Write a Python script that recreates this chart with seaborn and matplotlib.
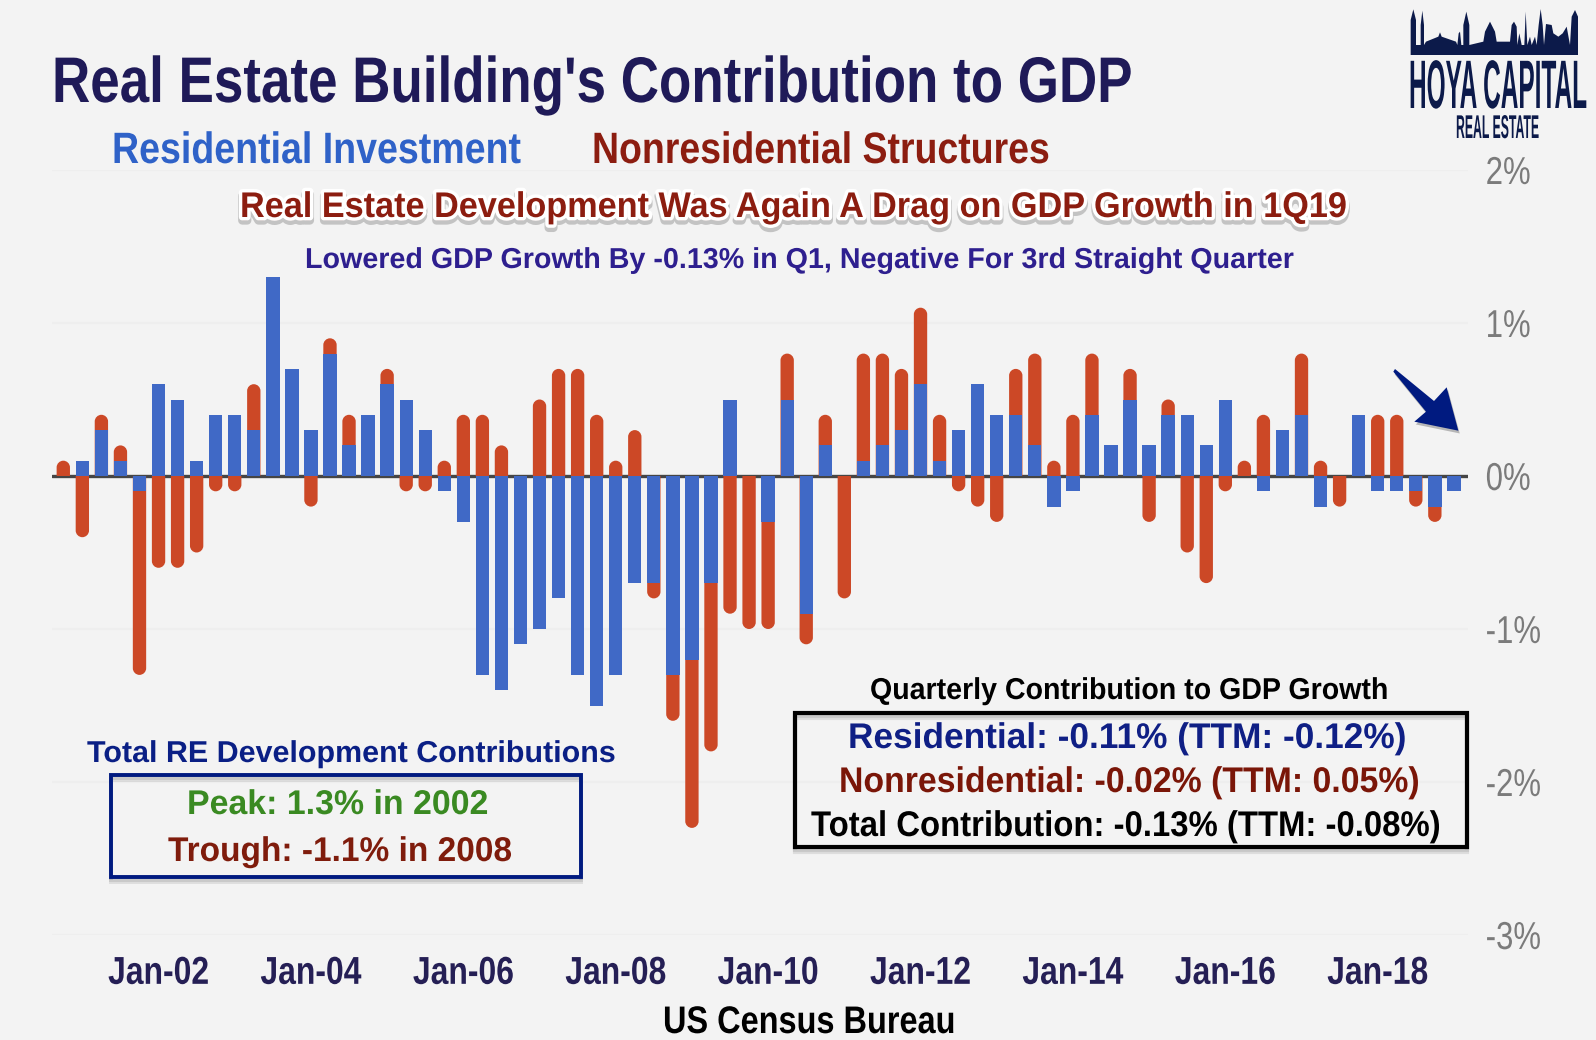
#!/usr/bin/env python3
import numpy as np
import pandas as pd
import matplotlib
matplotlib.use("Agg")
import matplotlib.pyplot as plt
import matplotlib.patheffects as pe
from matplotlib.path import Path as MplPath
from matplotlib.patches import PathPatch, Polygon, Rectangle
from matplotlib.transforms import Affine2D
import seaborn as sns

# quarterly contributions to GDP growth, percentage points (4Q00 .. 1Q19)
residential = [
    0.0, 0.1, 0.3, 0.1, -0.1, 0.6, 0.5, 0.1, 0.4, 0.4, 0.3, 1.3, 0.7, 0.3, 0.8, 0.2, 0.4, 0.6, 0.5,
    0.3, -0.1, -0.3, -1.3, -1.4, -1.1, -1.0, -0.8, -1.3, -1.5, -1.3, -0.7, -0.7, -1.3, -1.2, -0.7,
    0.5, 0.0, -0.3, 0.5, -0.9, 0.2, 0.0, 0.1, 0.2, 0.3, 0.6, 0.1, 0.3, 0.6, 0.4, 0.4, 0.2, -0.2,
    -0.1, 0.4, 0.2, 0.5, 0.2, 0.4, 0.4, 0.2, 0.5, 0.0, -0.1, 0.3, 0.4, -0.2, 0.0, 0.4, -0.1, -0.1,
    -0.1, -0.2, -0.1,
]
nonresidential = [
    0.1, -0.4, 0.1, 0.1, -1.2, -0.6, -0.6, -0.5, -0.1, -0.1, 0.3, 0.0, 0.0, -0.2, 0.1, 0.2, 0.0, 0.1, -0.1,
    -0.1, 0.1, 0.4, 0.4, 0.2, 0.0, 0.5, 0.7, 0.7, 0.4, 0.1, 0.3, -0.1, -0.3, -1.1, -1.1,
    -0.9, -1.0, -0.7, 0.3, -0.2, 0.2, -0.8, 0.7, 0.6, 0.4, 0.5, 0.3, -0.1, -0.2, -0.3, 0.3, 0.6, 0.1,
    0.4, 0.4, 0.0, 0.2, -0.3, 0.1, -0.5, -0.7, -0.1, 0.1, 0.4, 0.0, 0.4, 0.1, -0.2, 0.0, 0.4, 0.4,
    -0.1, -0.1, 0.0,
]
first_quarter = "2000-10-01"
x_tick_years = [2002, 2004, 2006, 2008, 2010, 2012, 2014, 2016, 2018]
y_ticks = [-3, -2, -1, 0, 1, 2]

W, H = 1596, 1040
BG = "#f3f3f3"
BLUE = "#4069c6"
ORANGE = "#cc4826"
NAVY = "#001a80"
BRICK = "#8c1d10"
FAMILY = ["Liberation Sans", "DejaVu Sans"]


class Squeeze(pe.AbstractPathEffect):
    """Scale a text about a pixel anchor, then run other effects."""

    def __init__(self, sx, anchor, inner=None, sy=1.0, base=0.0):
        super().__init__()
        self.sx = sx
        self.sy = sy
        self.anchor = anchor
        self.base = base
        self.inner = inner or [pe.Normal()]

    def draw_path(self, renderer, gc, tpath, affine, rgbFace=None):
        squeeze = (Affine2D().translate(-self.anchor, -self.base)
                   .scale(self.sx, self.sy).translate(self.anchor, self.base))
        for effect in self.inner:
            effect.draw_path(renderer, gc, tpath, affine + squeeze, rgbFace)


def round_end(bar, ax):
    """Swap a seaborn bar for one with a rounded far end."""
    x, w, end = bar.get_x(), bar.get_width(), bar.get_height()
    if end == 0:
        return
    bar.set_visible(False)
    s = np.sign(end)
    ry = s * 0.0435
    k = 0.55
    verts = [(x, 0), (x, end - ry), (x, end - ry + k * ry), (x + w / 2 * (1 - k), end), (x + w / 2, end),
             (x + w / 2 * (1 + k), end), (x + w, end - ry + k * ry), (x + w, end - ry), (x + w, 0), (x, 0)]
    codes = [MplPath.MOVETO, MplPath.LINETO] + [MplPath.CURVE4] * 6 + [MplPath.LINETO, MplPath.CLOSEPOLY]
    ax.add_patch(PathPatch(MplPath(verts, codes), facecolor=ORANGE, edgecolor="none", zorder=2))


sns.set_style("white")
plt.rcParams["font.family"] = FAMILY

quarters = pd.date_range(first_quarter, periods=len(residential), freq="QS")
df = pd.DataFrame({"pos": np.arange(len(quarters)), "residential": residential, "nonresidential": nonresidential})
# nonresidential stacks on residential when both have the same sign
same_sign = df.residential * df.nonresidential > 0
df["nonres_end"] = np.where(same_sign, df.residential + df.nonresidential, df.nonresidential)

fig = plt.figure(figsize=(W / 100, H / 100), dpi=100, facecolor=BG)
ax = fig.add_axes([52 / W, 1 - 935 / H, (1468 - 52) / W, (935 - 170) / H], facecolor=BG)

sns.barplot(data=df, x="pos", y="nonres_end", native_scale=True, color=ORANGE, saturation=1,
            width=0.7, linewidth=0, errorbar=None, ax=ax)
for bar in list(ax.patches):
    round_end(bar, ax)
sns.barplot(data=df, x="pos", y="residential", native_scale=True, color=BLUE, saturation=1,
            width=0.7, linewidth=0, errorbar=None, zorder=3, ax=ax)

ax.axhline(0, color="#454545", lw=2.4, zorder=1)
ax.set_xlim(-0.593, 73.74)
ax.set_ylim(-3, 2)
ax.set_xlabel("")
ax.set_ylabel("")
for side in ax.spines.values():
    side.set_visible(False)

ax.grid(axis="y", color="#eeeeee", lw=1.6, zorder=0)
ax.set_axisbelow(True)
ax.yaxis.tick_right()
ax.set_yticks(y_ticks, labels=[f"{v}%" for v in y_ticks])
ax.tick_params(axis="y", length=0, pad=12.5, labelsize=28, labelcolor="#7b7b7b")
for lab in ax.get_yticklabels():
    lab.set_path_effects([Squeeze(0.8, 1487)])

tick_pos = [int(np.flatnonzero(quarters == pd.Timestamp(y, 1, 1))[0]) for y in x_tick_years]
ax.set_xticks(tick_pos, labels=[pd.Timestamp(y, 1, 1).strftime("%b-%y") for y in x_tick_years])
ax.tick_params(axis="x", length=0, pad=15, labelsize=28, labelcolor="#251f55")
for p, lab in zip(tick_pos, ax.get_xticklabels()):
    lab.set_fontweight("bold")
    lab.set_path_effects([Squeeze(0.82, ax.transData.transform((p, 0))[0])])

# everything else is placed in pixel coordinates of the picture
ov = fig.add_axes([0, 0, 1, 1], facecolor="none")
ov.set_xlim(0, W)
ov.set_ylim(H, 0)
ov.axis("off")
renderer = fig.canvas.get_renderer()


def label(s, x0, x1, base, cap, color, weight="bold", inner=None):
    size = cap / 0.729 * 72 / 100
    t = ov.text(x0, base, s, fontsize=size, color=color, fontweight=weight, ha="left", va="baseline")
    sx = (x1 - x0) / t.get_window_extent(renderer).width
    t.set_path_effects([Squeeze(sx, x0, inner)])
    return t


def tall_label(s, x0, x1, base, cap, color):
    # logo text: sized to its width, then stretched upward from the baseline
    t = ov.text(x0, base, s, fontsize=20, color=color, fontweight="bold", ha="left", va="baseline")
    size = 20 * (x1 - x0) / t.get_window_extent(renderer).width
    t.set_fontsize(size)
    natural_cap = size * 100 / 72 * 0.729
    t.set_path_effects([Squeeze(1.0, x0, sy=cap / natural_cap, base=H - base)])
    return t


def frame(x0, y0, x1, y1, color, lw):
    r = Rectangle((x0, y0), x1 - x0, y1 - y0, fill=False, edgecolor=color, linewidth=lw, joinstyle="miter")
    r.set_path_effects([pe.SimpleLineShadow(offset=(0, -off), shadow_color="black", alpha=0.09) for off in (1, 2.2, 3.4)]
                       + [pe.Normal()])
    ov.add_patch(r)


label("Real Estate Building's Contribution to GDP", 52, 1133, 102, 47, "#1f1a58")
label("Residential Investment", 112, 521, 163, 32, "#2f62c8")
label("Nonresidential Structures", 592, 1050, 163, 32, BRICK)

halo = [pe.Stroke(linewidth=6, foreground="#555555", alpha=0.3, offset=(0, -2.5)),
        pe.Stroke(linewidth=5, foreground="white"), pe.Normal()]
label("Real Estate Development Was Again A Drag on GDP Growth in 1Q19", 240, 1345, 217, 26, BRICK, inner=halo)
label("Lowered GDP Growth By -0.13% in Q1, Negative For 3rd Straight Quarter", 305, 1292, 268, 21, "#2e1f8f")

label("Total RE Development Contributions", 87, 614, 762, 22, "#0a1f85")
frame(111, 775, 581, 877, NAVY, 2.8)
label("Peak: 1.3% in 2002", 187, 488, 814, 25, "#3a8a22")
label("Trough: -1.1% in 2008", 168, 512, 861, 25, "#7f1c0c")

label("Quarterly Contribution to GDP Growth", 870, 1387, 699, 22, "black")
frame(795, 713, 1467, 847, "black", 3)
label("Residential: -0.11% (TTM: -0.12%)", 848, 1405, 748, 26, "#0f1f85")
label("Nonresidential: -0.02% (TTM: 0.05%)", 839, 1418, 792, 26, "#7a1608")
label("Total Contribution: -0.13% (TTM: -0.08%)", 811, 1439, 836, 26, "black")

label("US Census Bureau", 663, 955, 1033, 28, "black")

# arrow pointing at the last quarter
arrow = [(1245, 207), (1362, 303), (1400, 262), (1435, 392), (1303, 365), (1338, 335), (1240, 215)]
ov.add_patch(Polygon([(980 + a / 3, 300 + b / 3) for a, b in arrow], closed=True, facecolor=NAVY, edgecolor="none",
                     path_effects=[pe.SimplePatchShadow(offset=(1, -2), alpha=0.25, shadow_rgbFace="black"), pe.Normal()]))

# logo, skyline outline traced roughly
sky = [(92, 165), (92, 60), (100, 28), (108, 60), (108, 135), (122, 135), (122, 75), (127, 32), (132, 75), (132, 135),
       (138, 125), (175, 110), (180, 97), (185, 110), (228, 125), (232, 135), (236, 100), (240, 95), (244, 135),
       (250, 135), (250, 75), (259, 35), (268, 75), (268, 135), (310, 125), (315, 95), (330, 65), (345, 95), (350, 125),
       (390, 125), (395, 75), (402, 65), (410, 80), (412, 135), (418, 100), (425, 135), (433, 135), (437, 35),
       (442, 135), (450, 110), (455, 135), (465, 110), (470, 135), (476, 75), (482, 27), (488, 75), (492, 135),
       (498, 72), (515, 75), (520, 100), (535, 110), (548, 100), (560, 80), (570, 135), (575, 50), (585, 30),
       (594, 50), (594, 165)]
ov.add_patch(Polygon([(1380 + a / 3, b / 3) for a, b in sky], closed=True, facecolor="#0c1a4a", edgecolor="none"))
tall_label("HOYA CAPITAL", 1409, 1587, 108, 50, "#0c1a4a")
tall_label("REAL ESTATE", 1456, 1539, 138, 24, "#0c1a4a")

fig.savefig("out.png", dpi=100, facecolor=BG)
